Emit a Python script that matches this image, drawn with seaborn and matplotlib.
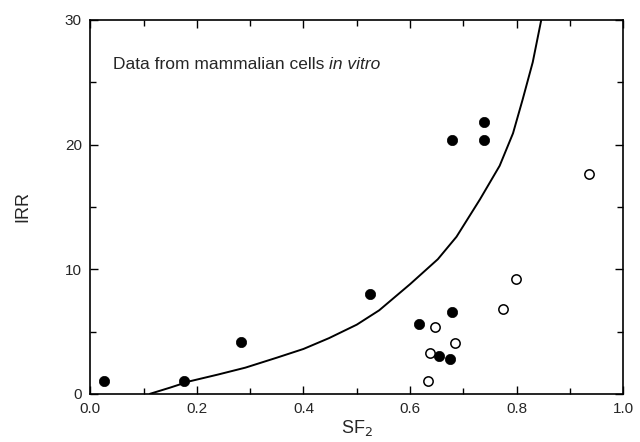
import numpy as np
import pandas as pd
import matplotlib
matplotlib.use('Agg')
import matplotlib.pyplot as plt
from matplotlib.ticker import MultipleLocator
import seaborn as sns

# filled circles
sf2_filled = [0.026, 0.175, 0.282, 0.524, 0.616, 0.655, 0.674, 0.679, 0.679, 0.739, 0.738]
irr_filled = [1.0, 1.0, 4.15, 8.0, 5.6, 3.05, 2.8, 6.55, 20.4, 21.8, 20.4]

# open circles
sf2_open = [0.633, 0.637, 0.646, 0.684, 0.775, 0.798, 0.935]
irr_open = [1.0, 3.3, 5.35, 4.07, 6.8, 9.2, 17.6]

# curve
sf2_curve = [0.112, 0.15, 0.185, 0.24, 0.291, 0.35, 0.4, 0.448, 0.5, 0.542, 0.6,
             0.652, 0.687, 0.731, 0.768, 0.793, 0.811, 0.83, 0.846]
irr_curve = [0.0, 0.5, 0.99, 1.55, 2.1, 2.9, 3.6, 4.47, 5.55, 6.7, 8.8,
             10.8, 12.6, 15.6, 18.3, 20.9, 23.6, 26.6, 30.0]

df_f = pd.DataFrame({'SF2': sf2_filled, 'IRR': irr_filled})
df_o = pd.DataFrame({'SF2': sf2_open, 'IRR': irr_open})
df_c = pd.DataFrame({'SF2': sf2_curve, 'IRR': irr_curve})

sns.set_style('ticks')
plt.rcParams['font.family'] = ['Liberation Sans', 'DejaVu Sans']

fig = plt.figure(figsize=(6.4, 4.42), dpi=100)
ax = fig.add_axes([0.141, 0.109, 0.833, 0.846])

sns.lineplot(data=df_c, x='SF2', y='IRR', sort=False, estimator=None,
             color='black', linewidth=1.4, ax=ax)
sns.scatterplot(data=df_f, x='SF2', y='IRR', color='black', s=55,
                edgecolor='black', linewidth=0.5, ax=ax, zorder=3)
sns.scatterplot(data=df_o, x='SF2', y='IRR', facecolor='white', s=45,
                edgecolor='black', linewidth=1.1, ax=ax, zorder=3)

ax.set_xlim(0, 1.0)
ax.set_ylim(0, 30)
ax.xaxis.set_major_locator(MultipleLocator(0.2))
ax.xaxis.set_minor_locator(MultipleLocator(0.1))
ax.yaxis.set_major_locator(MultipleLocator(10))
ax.yaxis.set_minor_locator(MultipleLocator(5))
ax.set_xticks([0, 0.2, 0.4, 0.6, 0.8, 1.0])
ax.set_xticklabels(['0.0', '0.2', '0.4', '0.6', '0.8', '1.0'])
ax.tick_params(which='both', direction='in', top=True, right=True,
               labelsize=11, width=1.0, color='black')
ax.tick_params(which='major', length=6, pad=6)
ax.tick_params(which='minor', length=4)
for sp in ax.spines.values():
    sp.set_linewidth(1.2)
    sp.set_color('black')

ax.set_xlabel('SF$_2$', fontsize=13, labelpad=1)
ax.set_ylabel('IRR', fontsize=13, labelpad=24)

# annotation, with "in vitro" in italics
t = ax.text(0.043, 26.4, 'Data from mammalian cells ', fontsize=12.5, va='center', ha='left')
fig.canvas.draw()
bb = t.get_window_extent()
x_end = ax.transData.inverted().transform((bb.x1, bb.y0))[0]
ax.text(x_end, 26.4, 'in vitro', fontsize=12.5, style='italic', va='center', ha='left')

fig.savefig('out.png', dpi=100)
